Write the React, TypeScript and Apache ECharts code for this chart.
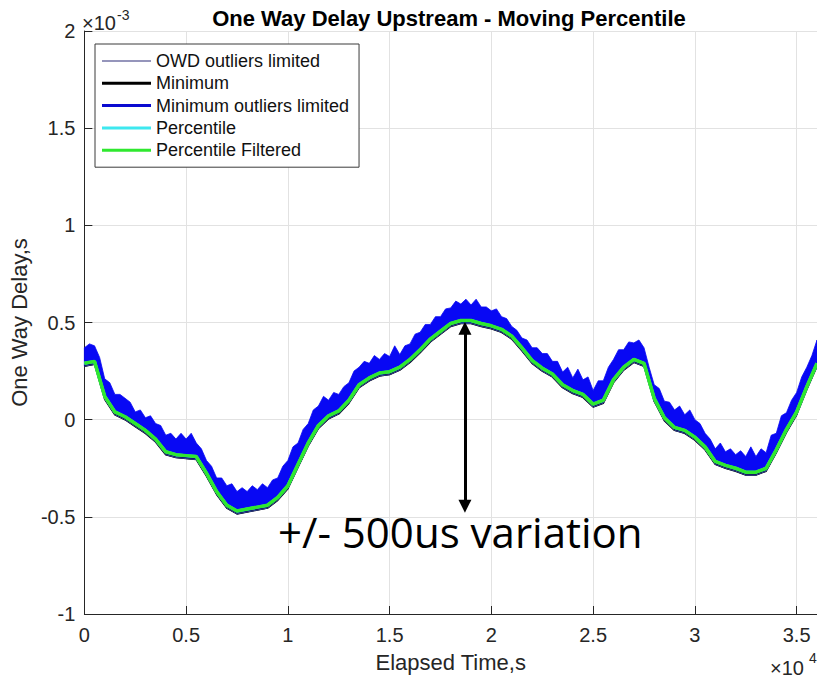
import React, { useEffect, useRef } from "react";
import * as echarts from "echarts";

// Elapsed time (s) sampling grid for the smooth curves
const timeGrid = [
  0, 500, 1000, 1500, 2000, 2500, 3000, 3500, 4000, 4500, 5000, 5500, 6000, 6500, 7000, 7500,
  8000, 8500, 9000, 9500, 10000, 10500, 11000, 11500, 12000, 12500, 13000, 13500, 14000, 14500,
  15000, 15500, 16000, 16500, 17000, 17500, 18000, 18500, 19000, 19500, 20000, 20500, 21000,
  21500, 22000, 22500, 23000, 23500, 24000, 24500, 25000, 25500, 26000, 26500, 27000, 27500,
  28000, 28500, 29000, 29500, 30000, 30500, 31000, 31500, 32000, 32500, 33000, 33500, 34000,
  34500, 35000, 35500, 36000,
];

// Percentile Filtered (x1e-3 s)
const percentileFiltered = [
  0.29, 0.3, 0.12, 0.04, 0.015, -0.02, -0.055, -0.1, -0.165, -0.18, -0.185, -0.19, -0.275, -0.37,
  -0.44, -0.47, -0.46, -0.45, -0.44, -0.4, -0.34, -0.23, -0.12, -0.03, 0.02, 0.045, 0.1, 0.18,
  0.215, 0.24, 0.247, 0.27, 0.31, 0.36, 0.415, 0.455, 0.495, 0.51, 0.51, 0.495, 0.483, 0.465,
  0.43, 0.37, 0.305, 0.265, 0.235, 0.18, 0.15, 0.13, 0.08, 0.1, 0.206, 0.27, 0.31, 0.29, 0.11,
  0.01, -0.04, -0.055, -0.09, -0.14, -0.215, -0.235, -0.25, -0.27, -0.27, -0.25, -0.155, -0.05,
  0.04, 0.17, 0.29,
];

// Percentile (hidden under the filtered curve)
const percentile = [
  0.29, 0.3, 0.12, 0.04, 0.015, -0.02, -0.055, -0.1, -0.165, -0.18, -0.185, -0.19, -0.275, -0.37,
  -0.44, -0.47, -0.46, -0.45, -0.44, -0.4, -0.34, -0.23, -0.12, -0.03, 0.02, 0.045, 0.1, 0.18,
  0.215, 0.24, 0.247, 0.27, 0.31, 0.36, 0.415, 0.455, 0.495, 0.51, 0.51, 0.495, 0.483, 0.465,
  0.43, 0.37, 0.305, 0.265, 0.235, 0.18, 0.15, 0.13, 0.08, 0.1, 0.206, 0.27, 0.31, 0.29, 0.11,
  0.01, -0.04, -0.055, -0.09, -0.14, -0.215, -0.235, -0.25, -0.27, -0.27, -0.25, -0.155, -0.05,
  0.04, 0.17, 0.29,
];

// Minimum (lower edge of the OWD band)
const minimum = [
  0.275, 0.285, 0.105, 0.025, 0.0, -0.035, -0.07, -0.115, -0.18, -0.195, -0.2, -0.205, -0.29,
  -0.385, -0.455, -0.485, -0.475, -0.465, -0.455, -0.415, -0.355, -0.245, -0.135, -0.045, 0.005,
  0.03, 0.085, 0.165, 0.2, 0.225, 0.232, 0.255, 0.295, 0.345, 0.4, 0.44, 0.48, 0.495, 0.495,
  0.48, 0.468, 0.45, 0.415, 0.355, 0.29, 0.25, 0.22, 0.165, 0.135, 0.115, 0.065, 0.085, 0.191,
  0.255, 0.295, 0.275, 0.095, -0.005, -0.055, -0.07, -0.105, -0.155, -0.23, -0.25, -0.265,
  -0.285, -0.285, -0.265, -0.17, -0.065, 0.025, 0.155, 0.275,
];

// OWD outliers limited: upper (noisy) envelope, finer time grid
const owdTime = [
  0, 250, 500, 750, 1000, 1250, 1500, 1750, 2000, 2250, 2500, 2750, 3000, 3250, 3500, 3750,
  4000, 4250, 4500, 4750, 5000, 5250, 5500, 5750, 6000, 6250, 6500, 6750, 7000, 7250, 7500,
  7750, 8000, 8250, 8500, 8750, 9000, 9250, 9500, 9750, 10000, 10250, 10500, 10750, 11000,
  11250, 11500, 11750, 12000, 12250, 12500, 12750, 13000, 13250, 13500, 13750, 14000, 14250,
  14500, 14750, 15000, 15250, 15500, 15750, 16000, 16250, 16500, 16750, 17000, 17250, 17500,
  17750, 18000, 18250, 18500, 18750, 19000, 19250, 19500, 19750, 20000, 20250, 20500, 20750,
  21000, 21250, 21500, 21750, 22000, 22250, 22500, 22750, 23000, 23250, 23500, 23750, 24000,
  24250, 24500, 24750, 25000, 25250, 25500, 25750, 26000, 26250, 26500, 26750, 27000, 27250,
  27500, 27750, 28000, 28250, 28500, 28750, 29000, 29250, 29500, 29750, 30000, 30250, 30500,
  30750, 31000, 31250, 31500, 31750, 32000, 32250, 32500, 32750, 33000, 33250, 33500, 33750,
  34000, 34250, 34500, 34750, 35000, 35250, 35500, 35750, 36000,
];
const owdUpper = [
  0.37, 0.39, 0.38, 0.32, 0.21, 0.19, 0.13, 0.13, 0.11, 0.09, 0.04, 0.05, 0.01, 0.02, -0.02,
  -0.03, -0.08, -0.07, -0.1, -0.07, -0.1, -0.07, -0.12, -0.15, -0.21, -0.24, -0.3, -0.3, -0.34,
  -0.33, -0.37, -0.35, -0.37, -0.34, -0.36, -0.33, -0.35, -0.31, -0.3, -0.24, -0.21, -0.14,
  -0.12, -0.05, -0.02, 0.05, 0.07, 0.12, 0.1, 0.14, 0.13, 0.17, 0.19, 0.25, 0.27, 0.3, 0.29,
  0.33, 0.31, 0.34, 0.325, 0.38, 0.335, 0.38, 0.39, 0.44, 0.45, 0.49, 0.49, 0.53, 0.53, 0.57,
  0.575, 0.61, 0.595, 0.62, 0.59, 0.62, 0.58, 0.58, 0.56, 0.57, 0.53, 0.52, 0.48, 0.46, 0.42,
  0.41, 0.37, 0.37, 0.34, 0.34, 0.3, 0.3, 0.245, 0.27, 0.215, 0.26, 0.205, 0.22, 0.15, 0.2,
  0.2, 0.27, 0.31, 0.36, 0.36, 0.4, 0.395, 0.41, 0.37, 0.27, 0.18, 0.16, 0.095, 0.09, 0.05,
  0.07, 0.025, 0.05, 0.0, -0.02, -0.07, -0.1, -0.15, -0.12, -0.165, -0.15, -0.18, -0.16, -0.19,
  -0.14, -0.19, -0.15, -0.17, -0.08, -0.07, 0.02, 0.036, 0.1, 0.14, 0.22, 0.27, 0.33, 0.41,
];

// Annotation arrow: time and the two ends (x1e-3 s)
const arrowTime = 18700;
const arrowEnds = [0.47, -0.445];

const seriesNames = [
  "OWD outliers limited",
  "Minimum",
  "Minimum outliers limited",
  "Percentile",
  "Percentile Filtered",
];

const FONT = '"Liberation Sans", Arial, Helvetica, sans-serif';

export default function App() {
  const ref = useRef<HTMLDivElement>(null);

  useEffect(() => {
    if (!ref.current) return;
    const chart = echarts.init(ref.current, null, { renderer: "svg" });

    const pairs = (xs: number[], ys: number[]) => xs.map((x, i) => [x, ys[i]]);
    const thin = "path://M0,0L49,0L49,1L0,1Z";
    const thick = "path://M0,0L49,0L49,3L0,3Z";

    const option: any = {
      animation: false,
      backgroundColor: "#ffffff",
      textStyle: { fontFamily: FONT },
      grid: { left: 81, right: 0, top: 31, bottom: 64, containLabel: false },
      legend: {
        orient: "vertical",
        left: 95,
        top: 44,
        padding: [8, 10, 8, 7],
        itemGap: 4.3,
        itemWidth: 49,
        itemHeight: 18,
        backgroundColor: "#ffffff",
        borderColor: "#3a3a3a",
        borderWidth: 1,
        itemStyle: { borderWidth: 0 },
        textStyle: { fontSize: 18, color: "#111", fontFamily: FONT, lineHeight: 18 },
        selectedMode: false,
        data: [
          { name: seriesNames[0], icon: thin, itemStyle: { color: "#2c2c78", borderWidth: 0 } },
          { name: seriesNames[1], icon: thick, itemStyle: { color: "#000000", borderWidth: 0 } },
          { name: seriesNames[2], icon: thick, itemStyle: { color: "#0a0ad0", borderWidth: 0 } },
          { name: seriesNames[3], icon: thick, itemStyle: { color: "#3ee8ef", borderWidth: 0 } },
          { name: seriesNames[4], icon: thick, itemStyle: { color: "#2fe82f", borderWidth: 0 } },
        ],
      },
      xAxis: {
        type: "value",
        min: 0,
        max: 36000,
        interval: 5000,
        name: "Elapsed Time,s",
        nameLocation: "middle",
        nameGap: 37,
        nameTextStyle: { fontSize: 22, color: "#262626", fontFamily: FONT },
        axisLine: { show: true, onZero: false, lineStyle: { color: "#262626", width: 1 } },
        axisTick: { show: true, inside: true, length: 8, lineStyle: { color: "#262626" } },
        axisLabel: {
          fontSize: 20,
          color: "#262626",
          margin: 11,
          showMaxLabel: false,
          formatter: (v: number) => (v % 5000 === 0 ? String(v / 10000) : ""),
        },
        splitLine: { show: true, lineStyle: { color: "#e2e2e2", width: 1 } },
      },
      yAxis: {
        type: "value",
        min: -1,
        max: 2,
        interval: 0.5,
        name: "One Way Delay,s",
        nameLocation: "middle",
        nameGap: 52,
        nameTextStyle: { fontSize: 22, color: "#262626", fontFamily: FONT },
        axisLine: { show: true, onZero: false, lineStyle: { color: "#262626", width: 1 } },
        axisTick: { show: true, inside: true, length: 8, lineStyle: { color: "#262626" } },
        axisLabel: { fontSize: 20, color: "#262626", margin: 9 },
        splitLine: { show: true, lineStyle: { color: "#e2e2e2", width: 1 } },
      },
      series: [
        {
          name: seriesNames[0],
          type: "custom",
          z: 1,
          silent: true,
          color: "#2c2c78",
          data: [[0, 0]],
          encode: { x: 0, y: 1 },
          renderItem: (params: any, api: any) => {
            if (params.dataIndex !== 0) return null;
            const top = owdTime.map((t, i) => api.coord([t, owdUpper[i]]));
            const bottom = timeGrid.map((t, i) => api.coord([t, minimum[i]])).reverse();
            return {
              type: "polygon",
              shape: { points: top.concat(bottom) },
              style: { fill: "#0808f4", stroke: "#0808f4", lineWidth: 0.8 },
            };
          },
        },
        {
          name: seriesNames[1],
          type: "line",
          z: 2,
          color: "#000000",
          symbol: "none",
          silent: true,
          data: pairs(timeGrid, minimum),
          lineStyle: { color: "#000000", width: 1.6 },
        },
        {
          name: seriesNames[2],
          type: "line",
          z: 3,
          color: "#0a0ad0",
          symbol: "none",
          silent: true,
          data: pairs(timeGrid, minimum),
          lineStyle: { color: "#34469a", width: 1 },
        },
        {
          name: seriesNames[3],
          type: "line",
          z: 4,
          color: "#3ee8ef",
          symbol: "none",
          silent: true,
          data: pairs(timeGrid, percentile),
          lineStyle: { color: "#3ee8ef", width: 3 },
        },
        {
          name: seriesNames[4],
          type: "line",
          z: 5,
          color: "#2fe82f",
          symbol: "none",
          silent: true,
          data: pairs(timeGrid, percentileFiltered),
          lineStyle: { color: "#2fe82f", width: 3.5 },
          markLine: {
            silent: true,
            symbol: ["triangle", "triangle"],
            symbolSize: [13, 13],
            label: { show: false },
            lineStyle: { color: "#000000", width: 3, type: "solid" },
            data: [
              [
                { coord: [arrowTime, arrowEnds[0]] },
                { coord: [arrowTime, arrowEnds[1]] },
              ],
            ],
          },
        },
      ],
      graphic: [
        {
          type: "text",
          x: 449,
          y: 18,
          style: {
            text: "One Way Delay Upstream - Moving Percentile",
            font: `bold 22px ${FONT}`,
            fill: "#000000",
            align: "center",
            verticalAlign: "middle",
          },
        },
        {
          type: "text",
          x: 82,
          y: 22.5,
          style: { text: "×10", font: `20px ${FONT}`, fill: "#262626", align: "left", verticalAlign: "middle" },
        },
        {
          type: "text",
          x: 117,
          y: 15,
          style: { text: "-3", font: `14px ${FONT}`, fill: "#262626", align: "left", verticalAlign: "middle" },
        },
        {
          type: "text",
          x: 770,
          y: 667.5,
          style: { text: "×10", font: `20px ${FONT}`, fill: "#262626", align: "left", verticalAlign: "middle" },
        },
        {
          type: "text",
          x: 809,
          y: 658,
          style: { text: "4", font: `14px ${FONT}`, fill: "#262626", align: "left", verticalAlign: "middle" },
        },
        {
          type: "text",
          x: 278,
          y: 531,
          z: 100,
          style: {
            text: "+/- 500us variation",
            font: `42px "Open Sans", sans-serif`,
            fill: "#000000",
            align: "left",
            verticalAlign: "middle",
          },
        },
      ],
    };

    chart.setOption(option);
    return () => chart.dispose();
  }, []);

  return (
    <div
      ref={ref}
      style={{ position: "absolute", left: 0, top: 0, width: 817, height: 678, background: "#fff" }}
    />
  );
}
